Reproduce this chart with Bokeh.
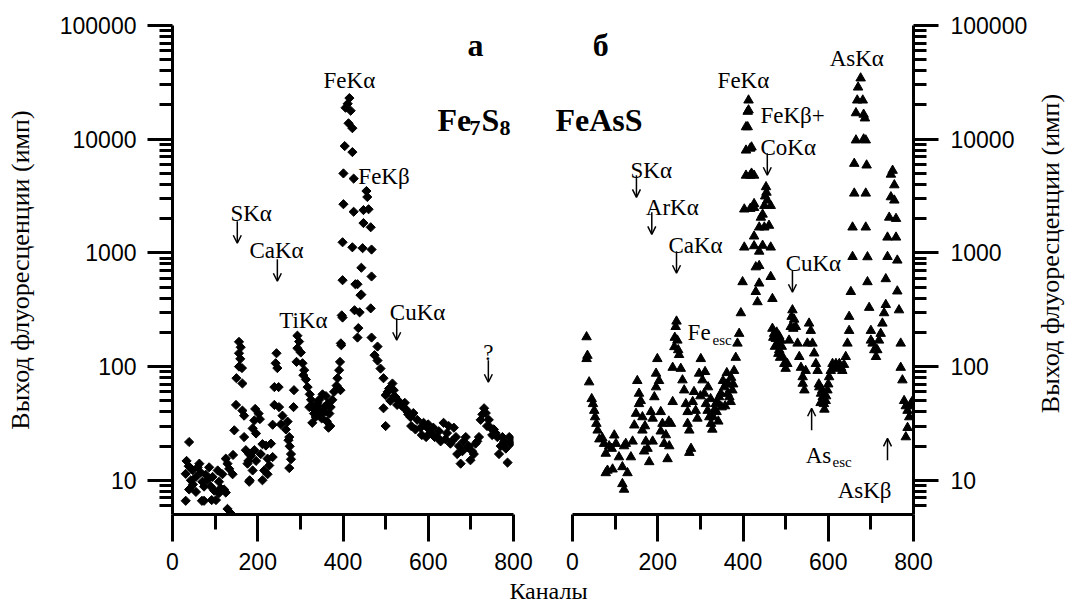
import math
from bokeh.plotting import figure
from bokeh.layouts import row, column
from bokeh.models import FixedTicker, Label, Range1d, NumeralTickFormatter, Arrow, OpenHead
from bokeh.embed import file_html
from bokeh.resources import INLINE

# ---------------- data: Fe7S8 (panel a) ----------------
fe7s8_channel = [31,31,33,38,39,39,43,47,48,55, 55,59,63,66,69,70,74,74,78,82, 86,90,92,94,98,102,106,109,109,113, 117,121,125,125,129,129,133,137,141,142,
    145,149,150,156,156,156,159,160,163,164,164,168,168,172,176,180,181,
    178,180,184,188,188,192,192,194,196,196, 202,205,207,211,211,215,219,223,223,227,231,
    235,235,239,239,242,244,246,249,250,254,258,266,274,
    270,272,274,275,278,278,284,285,
    291,293,293,297,301,305,307,309,313,317, 321,322,325,328,328,332,336,336,340,344, 344,346,348,350,352,356,358,360,362,364, 366,368,370,371,375,379,
    385,387,391,393,394,395,396,397,399,
    399,399,401,401,404,406,411,415,418,413, 422,422,425,425,422,429,427,
    434,434,436,439,441,443,443,446,448,448, 455,457,460,465,467,467,465,467,474,481, 481,488,495,495,500,500,
    505,508,511,516,519,520,523,527,530,535, 538,542,545,548,551,553,558,560,565,570, 574,582,585,589,595,598,600,605,612,615,
    621,625,629,636,640,644,648,652,655,660, 665,668,672,676,680,683,688,692,695,699, 703,707,711,715,719,723,727,731,735,738,
    742,746,750,754,758,762,766,770,774,778, 782,786,790,793,797]
fe7s8_counts = [6.6,11.4,14.8,13.3,21.7,8.3,10.0,12.3,9.2,10.7, 7.9,13.0,14.0,11.7,6.6,9.7,6.6,8.8,11.2,10.0, 13.0,8.8,6.7,10.7,8.1,6.7,12.2,9.7,7.7,8.5, 11.3,8.3,15.5,7.8,14.0,5.6,12.6,5.1,11.3,16.7,
    27.5,46,79,165,131,100,117,148,97,71,41,37,24,18.4,14,17,10,
    14.8,9.7,16.5,28.6,12.2,33.6,18.4,42.4,25.8,14.8, 38.6,34.5,17,20.8,10,12.2,20.2,15.5,11.3,13.5,21,
    30.8,16,46,66,107,131,97,66,44,31,37,28,24,
    32.8,22.5,12.8,19.9,17,15.3,44,62,
    110,187,145,166,133,107,84,93,77,66, 44,57,51,44,32,38.6,41,36,48,51, 44,42,38.6,35,57,44,40,55,33,47, 29,38.6,30,44,51,60,
    68,79,93,110,62,160,154,282,270,
    575,1240,2680,5000,8700,18900,20500,23000,17800,13800, 12500,7700,4500,2300,1120,530,313,
    180,530,218,300,425,740,430,1100,2380,1830, 3500,3100,2420,1680,1070,620,325,180,126,150, 113,96,79,43,56,30,
    60,64,50,71,62,55,54,46,50,47, 45,44,48,42,40,38,36,30,39,28, 34,29,25,32,24,29,31,26,29,24,
    24,27,22,32,23,26,30,21,22,29, 24,17,20,14,18,22,24,19.5,20,15, 18,17,21,22,24,34,38,43,39,30,
    34,29,25,28,26,24,17,20,24,22, 19,14.3,24,21,22]

# ---------------- data: FeAsS (panel b) ----------------
feass_channel = [33,33,35,39,45,48,51,53,56,59, 63,70,74,78,78,82,86,92,94,98, 102,109,117,117,121,121,125,129,137,141, 145,149,156,156,164,164,168,172,176,180,
    188,188,192,196,196,199,207,207,211,215, 223,227,231,235,235,239,242,244,246,250, 254,258,262,266,270,270,274,274,278,282,
    289,297,301,305,309,313,317,321,325,328, 332,336,340,344,348,356,360,364,368,371, 375,379,383,387,391,395,399,
    285,293,300,311,318,324,330,338,342,350, 353,358,362,366,372,377,240,248,152,160, 170,184,203,219,226,
    403,403,407,407,407,411,413,413,411,420, 417,420,417,426,417,426,426,426,426,430, 430,434,438,438,438,438,442,446,446,450,
    450,452,454,455,457,461,465,465,465,469, 469,473,477,481,485,485,489,493,497,500,
    471,475,479,483,487,491,
    504,508,512,514,516,518,520,524,528,532, 536,540,540,544,547,551,555,559,563,567, 571,575,579,583,587,590,594,598,602,606,
    610,614,618,622,626,630,633,637,641,645, 649,649,653,657,657,661,661,665,665,668, 670,676,681,683,686,683,688,690,688,688,
    692,692,696,700,700,704,708,712,715,719, 723,727,731,735,735,739,739,743,747,747, 751,755,755,759,759,762,762,766,770,770,
    774,778,782,782,786,786,790,794,798,800,
    578,582,586,591,595,600]
feass_counts = [182,117,125,73,52,47,41,36,31.5,27.5, 23,23.5,21,17.2,11.6,12.2,20,19,12.5,24.9, 21,16,13.1,9.3,20,8.3,21,11.6,16,22, 30.5,38.6,47,58,27.5,36,18,22,19,14.5,
    22,35,54,66,87,117,40,27,31.5,21, 15.4,20,31.5,49,98,149,224,250,170,127, 96,76,62,47,40,31.5,27.5,17.5,19,49,
    41,87,117,76,58,47,41,36,31.5,28, 41,47,49,54,58,66,70,58,54,49, 62,92,120,160,195,296,555,
    60,35,55,90,66,52,36,40,33,44, 75,45,88,70,80,70,180,140,75,50, 30,40,75,25,33,
    1120,2420,4800,7980,12800,17500,22000,18000,12800,8500, 8300,5000,4800,4800,2450,2700,2500,1400,1150,750, 455,370,1030,1680,770,540,2050,2180,1160,1680,
    2600,3150,3800,3400,2900,1740,2600,1120,617,395, 216,195,176,160,185,140,170,122,106,96,
    180,150,200,130,120,150,
    106,170,224,275,314,216,260,224,160,122, 98,81,71,62,92,160,240,207,160,131, 106,92,66,58,54,47,50,62,81,92,
    106,98,106,96,106,98,92,104,122,160, 207,275,455,925,1680,3340,6100,9800,17000,22000, 28600,34400,22000,16500,15300,10000,9800,5900,3340,1680,
    920,555,330,207,170,160,140,122,140,170, 195,240,296,350,590,925,1370,2050,3100,4900, 5300,3950,2900,2000,1370,860,460,314,160,98,
    76,50,45,24,41,29,36,47,50,45,
    70,48,62,42,55,70]

x_major = [0, 200, 400, 600, 800]
x_minor = [100, 300, 500, 700]
y_major = [10, 100, 1000, 10000, 100000]
y_minor = [m * 10 ** e for e in range(0, 5) for m in range(2, 10) if 5 < m * 10 ** e < 100000]

Y_LABEL = "Выход флуоресценции (имп)"
X_LABEL = "Каналы"
SERIF = "Liberation Serif"
SANS = "Liberation Sans"
H = 578          # height of the plotting row
PX_PER_DECADE = 113.7


def style_axis(ax, tick_out, minor_out, standoff):
    ax.axis_line_width = 3
    ax.axis_line_color = "black"
    ax.major_tick_line_width = 3
    ax.minor_tick_line_width = 3
    ax.major_tick_line_color = "black"
    ax.minor_tick_line_color = "black"
    ax.major_tick_out = tick_out
    ax.major_tick_in = 0
    ax.minor_tick_out = minor_out
    ax.minor_tick_in = 0
    ax.major_label_standoff = standoff
    ax.major_label_text_font = SANS
    ax.major_label_text_font_size = "23px"
    ax.major_label_text_color = "black"
    ax.axis_label_text_font = SERIF
    ax.axis_label_text_font_size = "26px"
    ax.axis_label_text_font_style = "normal"
    ax.axis_label_text_color = "black"


def make_fig(side, x_start, border_left, border_right, width):
    p = figure(width=width, height=H, x_range=Range1d(x_start, 800), y_range=Range1d(5, 100000),
               y_axis_type="log", y_axis_location=side, output_backend="svg",
               toolbar_location=None, min_border_left=border_left, min_border_right=border_right,
               min_border_top=25, min_border_bottom=H - 25 - 489)
    p.outline_line_color = None
    p.grid.visible = False
    p.background_fill_color = "white"
    p.border_fill_color = "white"
    xa = p.xaxis[0]
    xa.ticker = FixedTicker(ticks=x_major, minor_ticks=x_minor)
    xa.bounds = (0, 800)
    style_axis(xa, 27, 15, 11)
    ya = p.yaxis[0]
    ya.ticker = FixedTicker(ticks=y_major, minor_ticks=y_minor)
    ya.formatter = NumeralTickFormatter(format="0")
    style_axis(ya, 25, 13, 11)
    return p


def ann(p, x, y, text, align="left", baseline="alphabetic", size="23px", bold=False):
    p.add_layout(Label(x=x, y=y, text=text, text_font=SERIF, text_font_size=size,
                       text_align=align, text_baseline=baseline,
                       text_font_style="bold" if bold else "normal", text_color="black"))


def arrow(p, x, y, up=False):
    f = 10 ** (11 / PX_PER_DECADE)
    top, bot = y * f, y / f
    start, end = (bot, top) if up else (top, bot)
    p.add_layout(Arrow(end=OpenHead(size=8, line_width=1.5, line_color="black"),
                       x_start=x, y_start=start, x_end=x, y_end=end,
                       line_width=1.5, line_color="black"))


# ---------------- panel a ----------------
p1 = make_fig("left", 0, 172, 29, 542)
p1.yaxis[0].axis_label = Y_LABEL
p1.yaxis[0].axis_label_standoff = 22
p1.scatter(x=fe7s8_channel, y=fe7s8_counts, marker="square", angle=math.pi / 4, size=6.5,
           color="black")

ann(p1, 415, 32960, "FeKα", align="center")
ann(p1, 436, 4720, "FeKβ")
ann(p1, 136, 2230, "SKα")
arrow(p1, 152, 1520)
ann(p1, 244, 1054, "CaKα", align="center")
arrow(p1, 246, 703)
ann(p1, 307, 255, "TiKα", align="center")
ann(p1, 575, 300, "CuKα", align="center")
arrow(p1, 526, 213)
ann(p1, 741, 133.6, "?", align="center")
arrow(p1, 741, 91)
ann(p1, 711, 67000, "а", align="center", size="32px", bold=True)
ann(p1, 621.7, 14660, "Fe", size="32px", bold=True)
ann(p1, 696.8, 12470, "7", size="22px", bold=True)
ann(p1, 724.9, 14660, "S", size="32px", bold=True)
ann(p1, 767.2, 12470, "8", size="22px", bold=True)

# ---------------- panel b ----------------
# frame starts 30 px (= 70.4 channels) left of channel 0 so the label FeAsS fits
p2 = make_fig("right", -70.4, 0, 122, 493)
style_axis(p2.yaxis[0], 25, 13, 12)
p2.scatter(x=feass_channel, y=feass_counts, marker="triangle", size=9.5, color="black")

ann(p2, 401, 32960, "FeKα", align="center")
ann(p2, 441, 16230, "FeKβ+")
ann(p2, 441, 8490, "CoKα")
arrow(p2, 457, 6020)
ann(p2, 136, 5330, "SKα")
arrow(p2, 150, 3850)
ann(p2, 172, 2518, "ArKα")
arrow(p2, 186, 1820)
ann(p2, 225, 1167, "CaKα")
arrow(p2, 244, 827)
ann(p2, 500, 811, "CuKα")
arrow(p2, 516, 563)
ann(p2, 270, 200, "Fe")
ann(p2, 328.5, 170, "esc", size="15px")
arrow(p2, 561, 34.4, up=True)
ann(p2, 547, 16.6, "As")
ann(p2, 610, 14.4, "esc", size="15px")
arrow(p2, 739, 18.7, up=True)
ann(p2, 622, 8.17, "AsKβ")
ann(p2, 667, 51400, "AsKα", align="center")
ann(p2, 66, 67000, "б", align="center", size="32px", bold=True)
ann(p2, -39.9, 14660, "FeAsS", size="32px", bold=True)


def text_strip(width, height):
    p = figure(width=width, height=height, x_range=Range1d(0, width), y_range=Range1d(0, height),
               x_axis_type=None, y_axis_type=None, output_backend="svg", toolbar_location=None,
               min_border=0)
    p.outline_line_color = None
    p.grid.visible = False
    p.border_fill_color = "white"
    p.background_fill_color = "white"
    return p


# right-hand axis title, reading bottom-to-top like the left one
p3 = text_strip(30, H)
p3.add_layout(Label(x=15, y=H - 269.5, text=Y_LABEL, angle=math.pi / 2, text_align="center",
                    text_baseline="middle", text_font=SERIF, text_font_size="26px",
                    text_color="black"))

# common x-axis title
p4 = text_strip(1065, 603 - H)
p4.add_layout(Label(x=548, y=(603 - H) / 2, text=X_LABEL, text_align="center",
                    text_baseline="middle", text_font=SERIF, text_font_size="24px",
                    text_color="black"))

layout = column(row(p1, p2, p3), p4)
open("out.html", "w").write(file_html(layout, INLINE))
